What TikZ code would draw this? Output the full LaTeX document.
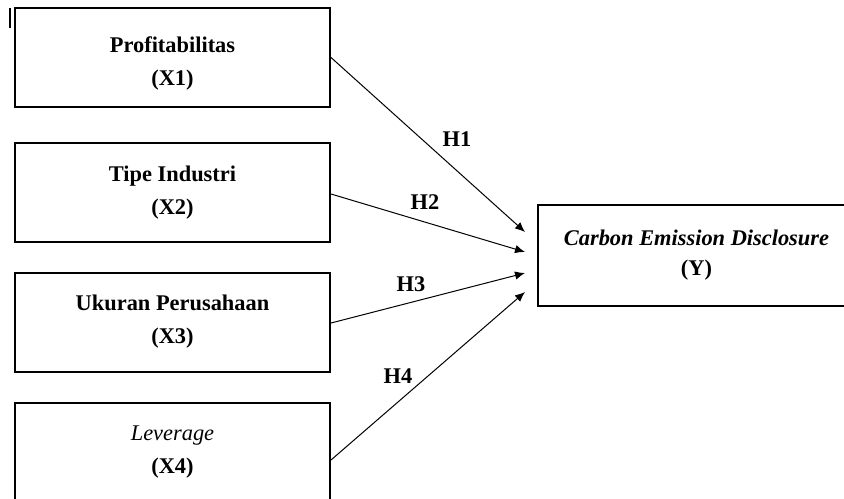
\documentclass[tikz,border=0pt]{standalone}
\usepackage{fontspec}
\setmainfont{Liberation Serif}
\usetikzlibrary{arrows.meta}
\newcommand{\TopStrut}{\rule{0pt}{14pt}}

\begin{document}
\begin{tikzpicture}[x=0.5pt,y=-0.5pt]
    \tikzstyle{var}=[draw,line width=1pt,minimum width=157.5pt,minimum height=49.5pt,
                     inner sep=0pt,align=center,
                     font=\fontsize{11.2}{16.5}\selectfont\bfseries]
    \tikzstyle{hyp}=[inner sep=0pt,font=\fontsize{11.2}{13}\selectfont\bfseries]
    \tikzstyle{arr}=[line width=0.5pt,-{Latex[length=5pt,width=4.2pt]}]

    % The page, boxes X4 and Y run over its edges
    \useasboundingbox (0,0) rectangle (844,498);
    \clip (0,0) rectangle (844,498);

    % Stray mark at the top left
    \draw[line width=1pt] (10,8) -- (10,28);

    % Independent variables
    \node[var] (X1) at (172.5,57.5) {\TopStrut Profitabilitas\\(X1)};
    \node[var] (X2) at (172.5,192.5) {Tipe Industri\\(X2)};
    \node[var] (X3) at (172.5,322) {Ukuran Perusahaan\\(X3)};
    \node[var] (X4) at (172.5,452) {\textit{\mdseries Leverage}\\(X4)};

    % Dependent variable
    \node[var,minimum width=158.5pt,minimum height=50.5pt,
          font=\fontsize{11.2}{15}\selectfont\bfseries]
        (Y) at (696.5,255.5) {\textit{Carbon Emission Disclosure}\\(Y)};

    % Where the arrows stop, short of the Y box
    \coordinate (t1) at (525,232);
    \coordinate (t2) at (525,252);
    \coordinate (t3) at (525,273);
    \coordinate (t4) at (525,292);

    % Hypotheses
    \draw[arr] (X1.east) -- (t1);
    \draw[arr] ([yshift=-0.75pt]X2.east) -- (t2);
    \draw[arr] ([yshift=-0.5pt]X3.east) -- (t3);
    \draw[arr] ([yshift=-4pt]X4.east) -- (t4);

    \node[hyp] (h1) at (457,139) {H1};
    \node[hyp] (h2) at (425,202) {H2};
    \node[hyp] (h3) at (411,284) {H3};
    \node[hyp] (h4) at (398,376) {H4};
\end{tikzpicture}
\end{document}
